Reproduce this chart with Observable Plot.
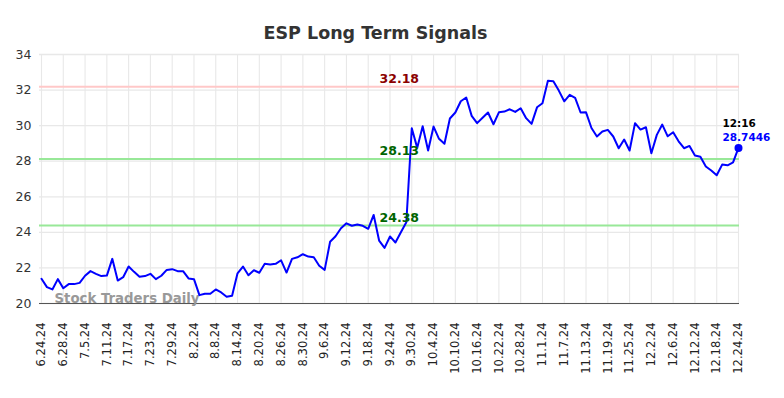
<!DOCTYPE html>
<html><head><meta charset="utf-8">
<script src="https://cdn.jsdelivr.net/npm/d3@7"></script>
<script src="https://cdn.jsdelivr.net/npm/@observablehq/plot@0.6"></script>
<style>body{margin:0;background:#fff;font-family:"DejaVu Sans",sans-serif}</style>
</head><body><div id="chart"></div>
<script>
const title = "ESP Long Term Signals";
const dates = [
"6.24.24","6.25.24","6.26.24","6.27.24","6.28.24",
"7.1.24","7.2.24","7.3.24","7.5.24","7.8.24","7.9.24","7.10.24","7.11.24","7.12.24","7.15.24","7.16.24","7.17.24","7.18.24","7.19.24","7.22.24","7.23.24","7.24.24","7.25.24","7.26.24","7.29.24","7.30.24","7.31.24",
"8.1.24","8.2.24","8.5.24","8.6.24","8.7.24","8.8.24","8.9.24","8.12.24","8.13.24","8.14.24","8.15.24","8.16.24","8.19.24","8.20.24","8.21.24","8.22.24","8.23.24","8.26.24","8.27.24","8.28.24","8.29.24","8.30.24",
"9.3.24","9.4.24","9.5.24","9.6.24","9.9.24","9.10.24","9.11.24","9.12.24","9.13.24","9.16.24","9.17.24","9.18.24","9.19.24","9.20.24","9.23.24","9.24.24","9.25.24","9.26.24","9.27.24","9.30.24",
"10.1.24","10.2.24","10.3.24","10.4.24","10.7.24","10.8.24","10.9.24","10.10.24","10.11.24","10.14.24","10.15.24","10.16.24","10.17.24","10.18.24","10.21.24","10.22.24","10.23.24","10.24.24","10.25.24","10.28.24","10.29.24","10.30.24","10.31.24",
"11.1.24","11.4.24","11.5.24","11.6.24","11.7.24","11.8.24","11.11.24","11.12.24","11.13.24","11.14.24","11.15.24","11.18.24","11.19.24","11.20.24","11.21.24","11.22.24","11.25.24","11.26.24","11.27.24","11.29.24",
"12.2.24","12.3.24","12.4.24","12.5.24","12.6.24","12.9.24","12.10.24","12.11.24","12.12.24","12.13.24","12.16.24","12.17.24","12.18.24","12.19.24","12.20.24","12.23.24","12.24.24"
];
const prices = [
21.39,20.92,20.79,21.37,20.86,21.09,21.09,21.16,21.56,21.82,
21.67,21.54,21.57,22.51,21.29,21.48,22.08,21.78,21.50,21.54,
21.67,21.37,21.56,21.89,21.93,21.82,21.82,21.41,21.37,20.47,
20.55,20.55,20.79,20.62,20.38,20.43,21.70,22.08,21.59,21.87,
21.73,22.23,22.19,22.23,22.43,21.74,22.51,22.60,22.77,22.64,
22.60,22.12,21.89,23.47,23.78,24.23,24.51,24.37,24.44,24.37,
24.20,24.98,23.54,23.13,23.77,23.43,24.01,24.57,29.85,28.75,
29.97,28.60,29.95,29.26,28.98,30.40,30.74,31.37,31.58,30.55,
30.14,30.44,30.74,30.08,30.75,30.79,30.92,30.77,30.98,30.42,
30.10,31.03,31.26,32.53,32.50,31.97,31.37,31.73,31.56,30.74,
30.75,29.87,29.39,29.67,29.76,29.39,28.73,29.22,28.60,30.14,
29.78,29.91,28.45,29.48,30.06,29.40,29.63,29.12,28.73,28.86,
28.32,28.25,27.70,27.48,27.21,27.81,27.77,27.93,28.7446
];
const tickLabels = ["6.24.24","6.28.24","7.5.24","7.11.24","7.17.24","7.23.24","7.29.24","8.2.24","8.8.24","8.14.24","8.20.24","8.26.24","8.30.24","9.6.24","9.12.24","9.18.24","9.24.24","9.30.24","10.4.24","10.10.24","10.16.24","10.22.24","10.28.24","11.1.24","11.7.24","11.13.24","11.19.24","11.25.24","12.2.24","12.6.24","12.12.24","12.18.24","12.24.24"];
const yTicks = [20,22,24,26,28,30,32,34];
const levels = [32.18, 28.13, 24.38];
const levelLabels = ["32.18", "28.13", "24.38"];
const levelLineColors = ["#ffc8c8", "#98e898", "#98e898"];
const levelTextColors = ["#8b0000", "#006400", "#006400"];
const lastTime = "12:16";
const watermark = "Stock Traders Daily";

const data = prices.map((p, i) => ({i, date: dates[i], price: p}));
const last = data[data.length - 1];
const xTicks = tickLabels.map(l => dates.indexOf(l));
const levelData = levels.map((v, k) => ({v, label: levelLabels[k], line: levelLineColors[k], text: levelTextColors[k]}));
const labelX = 65.7;

const chart = Plot.plot({
  width: 784, height: 398,
  marginTop: 54, marginBottom: 95, marginLeft: 41, marginRight: 46,
  style: {fontFamily: "'DejaVu Sans', sans-serif", background: "#fff", color: "#222"},
  x: {type: "linear", domain: [0, dates.length - 1], label: null},
  y: {domain: [20, 34], label: null},
  marks: [
    Plot.ruleY(yTicks, {stroke: "#e8e8e8", strokeWidth: 1.3, insetLeft: -2, insetRight: -1}),
    Plot.ruleX(xTicks, {stroke: "#e8e8e8", strokeWidth: 1.1}),
    Plot.axisY(yTicks, {label: null, tickSize: 0, tickPadding: 10, fontSize: 12.5, fill: "#333"}),
    Plot.axisX(xTicks, {label: null, tickFormat: i => dates[i], tickRotate: -90, tickSize: 0, tickPadding: 19, fontSize: 11.5, fill: "#222"}),
    Plot.ruleY(levelData, {y: "v", stroke: "line", strokeWidth: 2, insetLeft: -2, insetRight: -1}),
    Plot.ruleY([20], {stroke: "#555", strokeWidth: 1.2, insetLeft: -2, insetRight: -1}),
    Plot.text([watermark], {frameAnchor: "bottom-left", dx: 13, dy: -1, fontSize: 13.3, fontWeight: "bold", fill: "#999", fillOpacity: 1, textAnchor: "start"}),
    Plot.line(data, {x: "i", y: "price", stroke: "#0000ff", strokeWidth: 2}),
    Plot.text(levelData, {x: () => labelX, y: "v", text: "label", fill: "text", fontWeight: "bold", fontSize: 12.5, dy: -8}),
    Plot.dot([last], {x: "i", y: "price", r: 4, fill: "#0000ff"}),
    Plot.text([last], {x: "i", y: "price", text: () => lastTime, textAnchor: "start", dx: -16, dy: -24, fontSize: 10.5, fontWeight: "bold", fill: "#000"}),
    Plot.text([last], {x: "i", y: "price", text: d => String(d.price), textAnchor: "start", dx: -16, dy: -10, fontSize: 10.5, fontWeight: "bold", fill: "#0000ff"}),
    Plot.text([title], {frameAnchor: "top", dx: -14.5, dy: -28, fontSize: 17.5, fontWeight: "bold", fill: "#333"})
  ]
});
document.getElementById("chart").append(chart);
</script>
</body></html>
